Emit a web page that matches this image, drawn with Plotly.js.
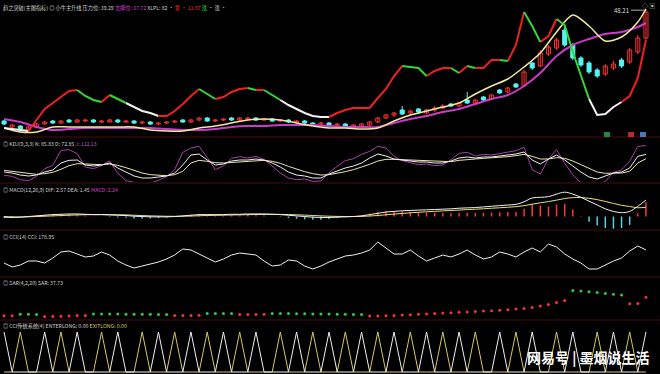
<!DOCTYPE html>
<html><head><meta charset="utf-8">
<script src="https://cdn.plot.ly/plotly-3.0.1.min.js"></script>
<style>html,body{margin:0;padding:0;background:#000;}#chart{width:660px;height:374px;}</style>
</head><body><div id="chart"></div>
<script>
// ---------- main panel (price) ----------
const candleOpen = [20.5,19.0,19.25,18.25,19.0,19.75,20.5,20.0,20.75,20.25,
 20.5,20.75,20.25,20.25,20.75,20.25,20.5,20.0,20.25,19.75,
 20.0,20.25,20.75,20.25,20.75,21.25,20.5,20.75,21.25,20.75,
 21.0,21.25,20.75,21.0,20.5,20.75,20.25,20.5,20.0,19.75,
 20.0,19.5,19.75,19.25,19.25,19.5,20.25,21.25,22.0,23.25,
 22.5,23.5,22.5,23.25,23.75,24.75,24.25,25.75,25.0,26.5,
 26.0,28.25,27.75,29.75,29.25,35.0,34.25,37.25,38.75,43.25,
 39.5,36.25,35.0,33.25,32.25,33.75,35.75,35.25,37.75,41.25];
const candleClose = [19.75,19.5,18.5,19.0,19.75,20.25,20.0,20.5,20.25,20.75,
 20.75,20.25,20.5,20.75,20.25,20.5,20.0,20.25,19.75,20.0,
 20.25,20.5,20.25,20.75,21.25,20.5,20.75,21.0,20.75,21.25,
 21.25,20.75,21.0,20.5,20.75,20.25,20.5,20.0,19.75,20.0,
 19.5,19.75,19.25,19.5,19.75,20.25,21.25,22.0,22.5,22.25,
 23.0,22.75,23.25,23.75,24.25,24.25,25.0,25.0,25.75,25.75,
 27.0,27.5,28.75,29.0,32.75,33.75,37.5,39.0,40.75,39.5,
 36.25,34.5,32.75,31.75,34.25,34.75,34.25,38.25,41.25,47.75];
const candleHigh = [20.75,19.75,19.5,19.25,20.0,20.5,20.75,20.75,21.0,21.0,
 21.0,21.0,20.75,21.0,21.0,20.75,20.75,20.5,20.5,20.25,
 20.5,20.75,21.0,21.0,21.5,21.5,21.0,21.25,21.5,21.5,
 21.5,21.5,21.25,21.25,21.0,21.0,20.75,20.75,20.25,20.25,
 20.25,20.0,20.0,19.75,20.0,20.5,21.5,22.25,22.75,24.25,
 23.25,23.75,23.5,24.25,24.75,25.0,25.25,27.75,26.0,26.75,
 27.25,28.5,29.0,30.0,33.25,35.25,38.25,39.5,41.25,44.5,
 40.0,36.75,35.5,33.75,34.75,35.5,36.25,38.75,42.0,48.21];
const candleLow = [19.5,18.75,18.25,18.0,18.75,19.5,19.75,19.75,20.0,20.0,
 20.25,20.0,20.0,20.25,20.0,20.0,19.75,19.75,19.5,19.5,
 19.75,20.0,20.0,20.0,20.5,20.25,20.25,20.5,20.5,20.5,
 20.75,20.5,20.5,20.25,20.25,20.0,20.0,19.75,19.5,19.5,
 19.25,19.25,19.0,19.0,19.0,19.25,20.0,21.0,21.5,22.0,
 22.0,22.25,22.25,22.75,23.5,24.0,24.0,24.75,24.75,25.5,
 25.75,27.25,27.5,28.75,29.0,33.25,34.0,36.75,38.25,39.0,
 35.75,34.0,32.25,31.25,31.75,33.25,33.75,34.75,37.25,40.75];
// channel line (小牛主升线) and its trend phase per bar: L = low/bottom, U = rising, D = falling
const bandLine = [18.75,18.5,18.25,18.0,20.75,23.5,25.0,26.5,28.0,28.25,
 26.75,25.75,25.25,27.0,26.0,25.0,24.0,23.0,22.5,21.75,
 21.75,23.0,24.75,26.75,28.5,27.25,26.0,26.5,27.75,28.5,
 28.75,28.25,28.25,27.0,25.75,24.5,23.5,22.5,21.75,21.5,
 21.5,22.5,23.25,23.75,23.75,23.75,26.25,28.5,31.75,34.25,
 34.0,33.75,31.75,33.0,33.75,33.75,32.5,34.25,33.75,33.75,
 35.75,35.75,35.5,39.5,47.75,44.25,40.25,41.75,46.0,44.5,
 37.75,31.75,26.0,22.0,22.25,24.0,25.25,26.75,31.25,40.75];
const bandPhase = ['L','L','L','L','U','U','U','U','U','U',
 'D','D','D','U','D','D','L','L','L','L',
 'U','U','U','U','U','D','D','U','U','U',
 'U','D','U','D','D','L','L','L','L','L',
 'L','U','U','U','U','U','U','U','U','U',
 'D','D','D','U','U','U','D','U','D','U',
 'U','U','D','U','U','D','D','U','U','D',
 'D','D','D','L','L','L','L','U','U','U'];
// moving averages, sampled every other bar plus the last bar
const maFast = [18.75,17.75,17.75,19.0,19.0,19.0,19.0,19.0,19.0,18.25,
 18.0,18.0,18.75,19.25,20.0,20.75,21.0,20.75,20.0,19.25,
 18.75,18.75,18.5,18.75,20.5,22.0,23.0,24.0,25.0,27.25,
 29.25,31.0,34.0,37.5,42.75,47.0,44.25,40.5,41.5,45.25,48.5];
const maSlow = [21.0,20.25,19.0,18.25,18.5,18.75,18.75,18.75,18.75,18.75,
 18.5,18.25,18.25,18.5,19.0,19.25,19.25,19.5,19.5,19.5,
 19.25,19.0,19.0,19.0,20.0,21.0,21.75,22.75,23.5,24.75,
 26.0,27.0,29.25,32.5,36.75,39.5,41.0,42.25,42.75,44.0,45.0];

// ---------- KDJ ----------
const kdjK = [33,30,24,21,24,33,39,60,68,69, 54,51,54,60,45,33,21,15,15,18,
 21,30,54,84,87,69,54,57,66,69, 69,72,69,60,48,33,24,21,15,15,
 27,36,45,51,60,75,87,81,72,69, 66,63,63,60,60,66,75,78,75,78,
 78,81,84,87,93,69,57,72,84,69, 51,33,18,12,21,30,33,45,80,85.83];
const kdjD = [38,35,31,28,26,28,32,41,52,58, 57,55,55,57,53,46,38,30,25,23,
 22,25,35,60,68,65,61,60,62,64, 66,68,68,65,59,50,41,34,28,24,
 25,29,34,40,47,56,66,71,71,70, 69,67,66,64,63,64,68,71,72,74,
 75,77,79,82,86,80,72,72,76,74, 66,55,43,33,29,29,30,35,60,72.85];
const kdjJ = [23,20,10,7,20,43,53,98,100,88, 48,43,52,66,29,7,2,-5,0,8,
 19,40,92,105,110,77,40,51,74,79, 75,80,71,50,30,15,10,12,5,6,
 31,50,67,73,86,95,110,105,80,67, 60,55,57,52,54,70,89,92,81,86,
 84,89,94,97,107,40,27,72,100,59, 25,0,-8,-10,5,32,39,65,110,112.13];

// ---------- MACD ----------
const macdDif = [-0.1,-0.15,-0.1,0.0,0.1,0.2,0.3,0.35,0.4,0.4, 0.35,0.3,0.3,0.25,0.2,0.15,0.05,0.0,-0.05,-0.05,
 -0.05,0.0,0.1,0.2,0.3,0.3,0.3,0.3,0.35,0.35, 0.4,0.4,0.4,0.35,0.3,0.2,0.1,0.0,-0.1,-0.15,
 -0.15,-0.1,-0.05,0.0,0.1,0.3,0.5,0.7,0.8,0.9, 0.95,1.0,1.05,1.1,1.15,1.2,1.3,1.35,1.4,1.5,
 1.6,1.7,1.8,1.9,2.3,2.9,3.0,3.1,3.5,3.8, 3.5,3.0,2.4,1.8,1.2,0.8,0.6,0.8,1.6,2.57];
const macdDea = [0.0,-0.05,-0.08,-0.05,0.0,0.05,0.1,0.15,0.2,0.25, 0.28,0.29,0.3,0.29,0.27,0.25,0.2,0.15,0.1,0.07,
 0.04,0.03,0.04,0.07,0.12,0.16,0.19,0.21,0.24,0.26, 0.29,0.31,0.33,0.34,0.33,0.31,0.27,0.22,0.16,0.1,
 0.05,0.02,0.0,0.0,0.02,0.08,0.16,0.27,0.38,0.48, 0.58,0.66,0.74,0.81,0.88,0.94,1.01,1.08,1.14,1.21,
 1.29,1.37,1.45,1.54,1.69,1.93,2.14,2.33,2.56,2.81, 2.95,2.96,2.85,2.64,2.35,2.04,1.75,1.56,1.37,1.45];
const macdHist = [-0.2,-0.2,-0.05,0.1,0.2,0.3,0.4,0.4,0.4,0.3, 0.15,0.02,0.0,-0.08,-0.14,-0.2,-0.3,-0.3,-0.3,-0.24,
 -0.18,-0.06,0.12,0.26,0.36,0.28,0.22,0.18,0.22,0.18, 0.22,0.18,0.14,0.02,-0.06,-0.22,-0.34,-0.44,-0.52,-0.5,
 -0.4,-0.24,-0.1,0.0,0.16,0.44,0.68,0.86,0.84,0.84, 0.74,0.68,0.62,0.58,0.54,0.52,0.58,0.54,0.52,0.58,
 0.62,0.66,0.7,0.72,1.22,1.94,1.72,1.54,1.88,1.98, 1.1,0.08,-0.8,-1.4,-1.8,-1.9,-1.8,-1.3,0.46,2.24];

// ---------- CCI ----------
const cciVal = [-110,-198,-154,-66,-66,-110,0,132,154,88, 22,44,132,66,-66,-154,-220,-176,-132,-88,
 -22,66,198,176,88,0,-88,-22,66,110, 88,66,-66,-176,-154,-44,-66,-176,-242,-176,
 -88,-22,44,66,110,176,352,220,88,88, 176,44,-66,0,66,22,88,176,66,-22,
 22,132,88,22,132,220,132,308,242,88, -22,-110,-242,-242,-154,-66,0,154,264,178.95];

// ---------- SAR ----------
const sarVal = [19.2,19.25,20.8,20.7,20.6,18.5,18.6,18.8,19.1,19.4, 19.6,21.0,21.0,20.95,20.9,20.85,20.8,20.75,20.7,20.6,
 20.5,19.5,19.55,19.6,19.7,21.5,21.45,21.4,21.4,20.5, 20.55,20.6,20.65,21.5,21.45,21.4,21.3,21.2,21.1,21.0,
 20.9,20.8,20.7,20.6,20.5,19.0,19.05,19.2,19.5,19.9, 20.3,20.7,21.1,21.5,21.9,22.3,22.7,23.1,23.5,23.9,
 24.3,24.8,25.3,25.9,26.6,27.6,28.9,30.5,32.4,34.5, 44.5,44.0,43.3,42.4,41.5,40.7,40.0,31.25,31.6,37.73];

// ---------- CCI传统系统 signals (bar numbers) ----------
const enterLongBars = [0,5,9,14,19,23,27,31,36,40,44,48,52,56,61,65,70,75,79];
const exitLongBars  = [2,7,12,17,21,25,29,34,38,42,46,50,54,58,63,68,73,77];

// ---------- labels ----------
const mainTitle = '趋之突破(主图指标) ◎ 小牛主升线 压力位: 39.29 <span style="color:#d040d0">支撑位: 37.72</span> XLPL: 82 · <span style="color:#ff3030">筹 · 11.57</span> <span style="color:#30e030">涨</span> · 涨 ·';
const kdjTitle  = '◎ KDJ(9,3,3) K: 85.83 D: 72.85 <span style="color:#c050c0">J: 112.13</span>';
const macdTitle = '◎ MACD(12,26,9) DIF: 2.57 DEA: 1.45 <span style="color:#d040d0">MACD: 2.24</span>';
const cciTitle  = '◎ CCI(14) CCI: 178.95';
const sarTitle  = '◎ SAR(4,2,20) SAR: 37.73';
const sigTitle  = '◎ CCI传统系统(4) ENTERLONG: 0.00 <span style="color:#d8c860">EXITLONG: 0.00</span>';
const highLabel = '48.21';
const watermark = '网易号 | 墨烟说生活';

// ---------- build ----------
const N = candleClose.length;
const idx = Array.from({length: N}, (_, i) => i);
const maIdx = idx.filter(i => i % 2 === 0).concat([N - 1]);
const traces = [];

// candles: wicks then bodies (hollow red for up, solid cyan for down)
const UP = '#ff3232', DN = '#54f4f4';
['up', 'dn'].forEach(kind => {
  const sel = idx.filter(i => kind === 'up' ? candleClose[i] >= candleOpen[i] : candleClose[i] < candleOpen[i]);
  const wx = [], wy = [];
  sel.forEach(i => { wx.push(i, i, null); wy.push(candleLow[i], candleHigh[i], null); });
  traces.push({type:'scatter', mode:'lines', x: wx, y: wy, xaxis:'x', yaxis:'y',
    line:{color: kind === 'up' ? UP : DN, width:1}, hoverinfo:'skip'});
});
['up', 'dn'].forEach(kind => {
  const sel = idx.filter(i => kind === 'up' ? candleClose[i] >= candleOpen[i] : candleClose[i] < candleOpen[i]);
  traces.push({type:'bar', x: sel, xaxis:'x', yaxis:'y', width:0.5,
    base: sel.map(i => Math.min(candleOpen[i], candleClose[i])),
    y: sel.map(i => Math.max(Math.abs(candleClose[i] - candleOpen[i]), 0.15)),
    marker:{color: kind === 'up' ? '#000000' : DN, line:{color: kind === 'up' ? UP : DN, width:1}}, hoverinfo:'skip'});
});
traces.push({type:'scatter', mode:'lines', x: maIdx, y: maSlow, xaxis:'x', yaxis:'y',
  line:{color:'#c83cc8', width:2, shape:'spline', smoothing:0.8}, hoverinfo:'skip'});
traces.push({type:'scatter', mode:'lines', x: maIdx, y: maFast, xaxis:'x', yaxis:'y',
  line:{color:'#f2eaa0', width:1.5, shape:'spline', smoothing:0.8}, hoverinfo:'skip'});

const phaseColor = {L:'#f4f0f0', U:'#f02020', D:'#34d834'};
['L','U','D'].forEach(st => {
  const xs = [], ys = [];
  for (let i = 1; i < N; i++) {
    if (bandPhase[i] !== st) continue;
    if (i === 1 || bandPhase[i - 1] !== st) {
      if (xs.length) { xs.push(null); ys.push(null); }
      xs.push(i - 1); ys.push(bandLine[i - 1]);
    }
    xs.push(i); ys.push(bandLine[i]);
  }
  traces.push({type:'scatter', mode:'lines', x: xs, y: ys, xaxis:'x', yaxis:'y', connectgaps:false,
    line:{color: phaseColor[st], width:2}, hoverinfo:'skip'});
});

// KDJ
traces.push({type:'scatter', mode:'lines', x: idx, y: kdjJ, xaxis:'x', yaxis:'y2', line:{color:'#a840a8', width:1}, hoverinfo:'skip'});
traces.push({type:'scatter', mode:'lines', x: idx, y: kdjD, xaxis:'x', yaxis:'y2', line:{color:'#ece6b0', width:1}, hoverinfo:'skip'});
traces.push({type:'scatter', mode:'lines', x: idx, y: kdjK, xaxis:'x', yaxis:'y2', line:{color:'#f0f0f0', width:1}, hoverinfo:'skip'});

// MACD
traces.push({type:'bar', x: idx, y: macdHist, xaxis:'x', yaxis:'y3', width:0.18,
  marker:{color: macdHist.map(v => v >= 0 ? '#ff3a3a' : '#50d8e8')}, hoverinfo:'skip'});
traces.push({type:'scatter', mode:'lines', x: idx, y: macdDea, xaxis:'x', yaxis:'y3', line:{color:'#e8e078', width:1, shape:'spline'}, hoverinfo:'skip'});
traces.push({type:'scatter', mode:'lines', x: idx, y: macdDif, xaxis:'x', yaxis:'y3', line:{color:'#f2f2f2', width:1, shape:'spline'}, hoverinfo:'skip'});

// CCI
traces.push({type:'scatter', mode:'lines', x: idx, y: cciVal, xaxis:'x', yaxis:'y4', line:{color:'#f0f0f0', width:1}, hoverinfo:'skip'});

// SAR
traces.push({type:'scatter', mode:'markers', x: idx, y: sarVal, xaxis:'x', yaxis:'y5',
  marker:{size:3, color: sarVal.map((v, i) => v < candleClose[i] ? '#ff3030' : '#2ecc40')}, hoverinfo:'skip'});

// signals
const enterSig = idx.map(i => enterLongBars.includes(i) ? 1 : 0);
const exitSig = idx.map(i => exitLongBars.includes(i) ? 1 : 0);
traces.push({type:'scatter', mode:'lines', x: idx, y: exitSig, xaxis:'x', yaxis:'y6', line:{color:'#d8c860', width:1}, hoverinfo:'skip'});
traces.push({type:'scatter', mode:'lines', x: idx, y: enterSig, xaxis:'x', yaxis:'y6', line:{color:'#f0f0f0', width:1}, hoverinfo:'skip'});

const H = 374, W = 660;
const py = p => 1 - p / H;
const px = p => p / W;
const font = 'Noto Sans CJK SC, Noto Sans, sans-serif';
const ttl = (t, y) => ({text: t, xref:'paper', yref:'paper', x: 0.002, y: py(y), xanchor:'left', yanchor:'middle',
  showarrow:false, font:{family: font, size:5.2, color:'#d0d0d0'}});

const yax = (d, r) => ({domain: d, range: r, visible:false, fixedrange:true});
const sep = p => ({type:'line', xref:'paper', yref:'paper', x0:0, x1:1, y0:py(p), y1:py(p), line:{color:'#4a0e0e', width:1}});
const box = (x0, c) => ({type:'rect', xref:'paper', yref:'paper', x0:px(x0), x1:px(x0+6), y0:py(137), y1:py(132), fillcolor:c, line:{width:0}});

const layout = {
  width: W, height: H, margin:{l:0, r:0, t:0, b:0},
  paper_bgcolor:'#000', plot_bgcolor:'#000', showlegend:false, barmode:'overlay',
  xaxis:{domain:[0, 650/660], range:[-0.5, N - 0.5], visible:false, fixedrange:true},
  yaxis: yax([py(136), 1], [16.75, 50.75]),
  yaxis2: yax([py(182), py(138)], [3, 135]),
  yaxis3: yax([py(229), py(184)], [-1.95, 5.08]),
  yaxis4: yax([py(276), py(231)], [-396, 594]),
  yaxis5: yax([py(319), py(278)], [16, 57]),
  yaxis6: yax([0, py(321)], [-0.05, 1.275]),
  shapes:[sep(137), sep(183), sep(230), sep(277), sep(320),
    box(604, '#1d8a3c'), box(628, '#b03030'), box(640, '#4a78b8')],
  annotations:[
    ttl(mainTitle, 8), ttl(kdjTitle, 143), ttl(macdTitle, 189), ttl(cciTitle, 236), ttl(sarTitle, 282), ttl(sigTitle, 326),
    {text: highLabel, xref:'x', yref:'y', x: N - 1, y: 48.21, ax: -24, ay: 0, showarrow:true, arrowhead:0,
      arrowwidth:0.8, arrowcolor:'#dddddd', font:{family: font, size:6, color:'#dddddd'}},
    {text:'◇ ▣', xref:'paper', yref:'paper', x: px(657), y: py(5), xanchor:'right', yanchor:'middle', showarrow:false,
      font:{family: font, size:6, color:'#bbbbbb'}},
    {text:'<b>' + watermark + '</b>', xref:'paper', yref:'paper', x: px(652), y: py(357), xanchor:'right', yanchor:'middle',
      showarrow:false, font:{family: font, size:14, color:'#ffffff'}}
  ]
};
Plotly.newPlot('chart', traces, layout, {staticPlot:true, displayModeBar:false});
</script>
</body></html>
